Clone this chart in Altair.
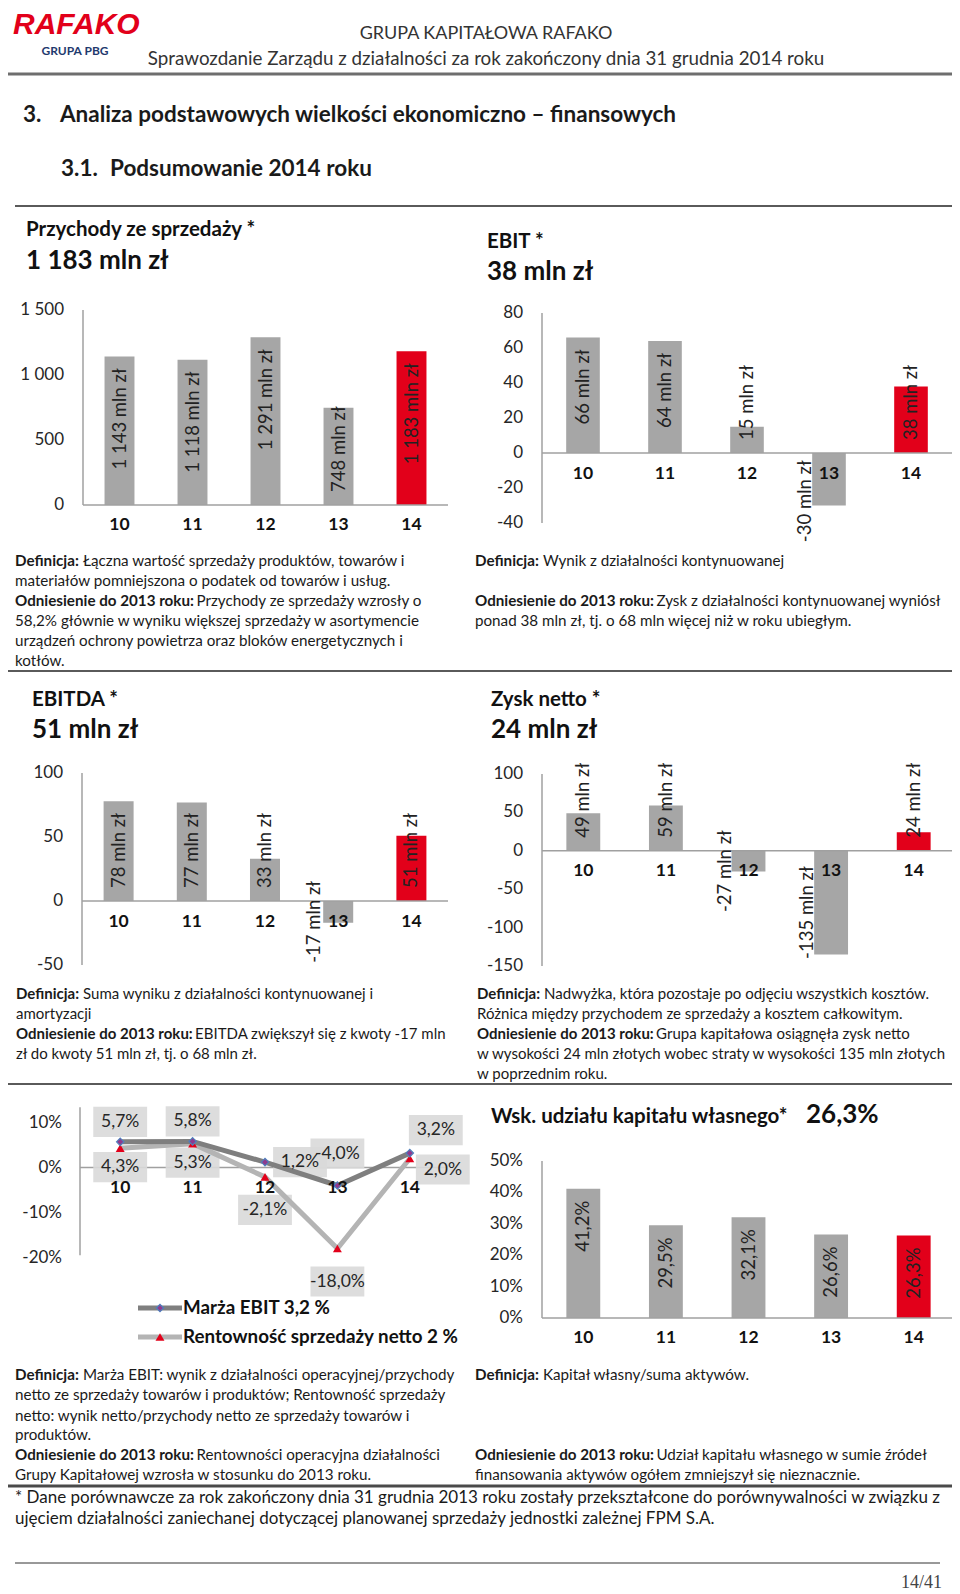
import altair as alt
import pandas as pd

FONT = "Lato"
GRAY = "#A6A6A6"
RED = "#E2001A"
AXIS = "#A0A0A0"
INK = "#1A1A1A"

# ---------------- data ----------------
years = ["10", "11", "12", "13", "14"]
revenue = [1143, 1118, 1291, 748, 1183]
ebit = [66, 64, 15, -30, 38]
ebitda = [78, 77, 33, -17, 51]
net_profit = [49, 59, -27, -135, 24]
equity_ratio = [41.2, 29.5, 32.1, 26.6, 26.3]
ebit_margin = [5.7, 5.8, 1.2, -4.0, 3.2]
net_margin = [4.3, 5.3, -2.1, -18.0, 2.0]

revenue_ticks = [0, 500, 1000, 1500]
revenue_tick_labels = ["0", "500", "1 000", "1 500"]
ebit_ticks = [-40, -20, 0, 20, 40, 60, 80]
ebitda_ticks = [-50, 0, 50, 100]
net_ticks = [-150, -100, -50, 0, 50, 100]
margin_ticks = [-20, -10, 0, 10]
equity_ticks = [0, 10, 20, 30, 40, 50]

# where each data label of the margin chart sits relative to its point
ebit_label_side = ["above", "above", "right", "above-far", "above-right"]
net_label_side = ["below", "below", "below-far", "below-far", "right-low"]

legend_labels = ["Marża EBIT 3,2 %", "Rentowność sprzedaży netto 2 %"]

block1_left = [
    ("Definicja:", "Łączna wartość sprzedaży produktów, towarów i"),
    ("", "materiałów pomniejszona o podatek od towarów i usług."),
    ("Odniesienie do 2013 roku:", "Przychody ze sprzedaży wzrosły o"),
    ("", "58,2% głównie w wyniku większej sprzedaży w asortymencie"),
    ("", "urządzeń ochrony powietrza oraz bloków energetycznych i"),
    ("", "kotłów."),
]
block1_right = [
    ("Definicja:", "Wynik z działalności kontynuowanej"),
    ("Odniesienie do 2013 roku:", "Zysk z działalności kontynuowanej wyniósł"),
    ("", "ponad 38 mln zł, tj. o 68 mln więcej niż w roku ubiegłym."),
]
block2_left = [
    ("Definicja:", "Suma wyniku z działalności kontynuowanej i"),
    ("", "amortyzacji"),
    ("Odniesienie do 2013 roku:", "EBITDA zwiększył się z kwoty -17 mln"),
    ("", "zł do kwoty 51 mln zł, tj. o 68 mln zł."),
]
block2_right = [
    ("Definicja:", "Nadwyżka, która pozostaje po odjęciu wszystkich kosztów."),
    ("", "Różnica między przychodem ze sprzedaży a kosztem całkowitym."),
    ("Odniesienie do 2013 roku:", "Grupa kapitałowa osiągnęła zysk netto"),
    ("", "w wysokości 24 mln złotych wobec straty w wysokości 135 mln złotych"),
    ("", "w poprzednim roku."),
]
block3_left = [
    ("Definicja:", "Marża EBIT: wynik z działalności operacyjnej/przychody"),
    ("", "netto ze sprzedaży towarów i produktów; Rentowność sprzedaży"),
    ("", "netto: wynik netto/przychody netto ze sprzedaży towarów i"),
    ("", "produktów."),
    ("Odniesienie do 2013 roku:", "Rentowności operacyjna działalności"),
    ("", "Grupy Kapitałowej wzrosła w stosunku do 2013 roku."),
]
block3_right = [
    ("Definicja:", "Kapitał własny/suma aktywów."),
    ("Odniesienie do 2013 roku:", "Udział kapitału własnego w sumie źródeł"),
    ("", "finansowania aktywów ogółem zmniejszył się nieznacznie."),
]
footnote = [
    "* Dane porównawcze za rok zakończony dnia 31 grudnia 2013 roku zostały przekształcone do porównywalności w związku z",
    "ujęciem działalności zaniechanej dotyczącej planowanej sprzedaży jednostki zależnej FPM S.A.",
]


def mln(v):
    s = f"{abs(v):,}".replace(",", " ")
    return ("-" if v < 0 else "") + s + " mln zł"


def pct(v):
    return f"{v:.1f}".replace(".", ",") + "%"


# ---------------- helpers ----------------
def P(v):
    return v - 8


ONE = pd.DataFrame({"k": [0]})
TITLE = 20.5
BODY = 15.2
LABEL = 18.5


def text_at(s, x, y, size=14, bold=False, color=INK, align="left", font=FONT, italic=False):
    kw = dict(text=s, align=align, baseline="middle", fontSize=size, font=font,
              color=color, fontWeight="bold" if bold else "normal")
    if italic:
        kw["fontStyle"] = "italic"
    return alt.Chart(ONE).mark_text(**kw).encode(x=alt.value(P(x)), y=alt.value(P(y)))


def rule_at(y, x0, x1, color="#5A5A5A", w=2):
    return alt.Chart(ONE).mark_rule(color=color, strokeWidth=w).encode(
        x=alt.value(P(x0)), x2=alt.value(P(x1)), y=alt.value(P(y)))


EM = {"Definicja:": 4.47, "Odniesienie do 2013 roku:": 11.94}


def para(lines, x, ys, size):
    out = []
    for (b, r), y in zip(lines, ys):
        if b:
            out.append(text_at(b, x, y, size, bold=True))
            out.append(text_at(r, x + EM[b] * size, y, size))
        else:
            out.append(text_at(r, x, y, size))
    return out


def bar_panel(vals, labels, ticks, tick_labels, domain, x0, x1, yb, yt, tick_right,
              cat_dy=20, pad=0.59, neg_dx=-10):
    k = (yb - yt) / (domain[1] - domain[0])
    xs = alt.Scale(domain=years, range=[P(x0), P(x1)], paddingInner=pad, paddingOuter=pad / 2)
    ys = alt.Scale(domain=domain, range=[P(yb), P(yt)], nice=False, zero=False)
    df = pd.DataFrame({"year": years, "v": vals, "label": labels})
    X = alt.X("year:N", scale=xs, axis=None)
    Y = alt.Y("v:Q", scale=ys, axis=None)
    col = alt.when(alt.datum.year == "14").then(alt.value(RED)).otherwise(alt.value(GRAY))
    bars = alt.Chart(df).mark_bar().encode(x=X, y=Y, y2=alt.Y2Datum(0), color=col)

    lab = alt.Chart(df).transform_calculate(
        fits=f"datum.v * {k:.5f} - 25 >= length(datum.label) * 8.3",
        mid="datum.v / 2")
    common = dict(angle=270, baseline="middle", fontSize=LABEL, font=FONT, color="#222222")
    top = lab.transform_filter("datum.v > 0 && datum.fits").mark_text(
        align="right", dx=-12, **common).encode(x=X, y=Y, text="label:N")
    base = lab.transform_filter("datum.v > 0 && !datum.fits").mark_text(
        align="left", dx=13, **common).encode(x=X, y=alt.YDatum(0, axis=None), text="label:N")
    neg = lab.transform_filter("datum.v < 0").mark_text(
        align="center", dx=neg_dx, dy=-24, **common).encode(
        x=X, y=alt.Y("mid:Q", axis=None), text="label:N")

    tdf = pd.DataFrame({"t": ticks, "tl": tick_labels})
    tk = alt.Chart(tdf).mark_text(align="right", baseline="middle", fontSize=17, font=FONT,
                                  color="#262626").encode(
        x=alt.value(P(tick_right)), y=alt.Y("t:Q", axis=None), text="tl:N")
    yax = alt.Chart(ONE).mark_rule(color=AXIS, strokeWidth=1.5).encode(
        x=alt.value(P(x0)), y=alt.YDatum(domain[0], axis=None), y2=alt.Y2Datum(domain[1]))
    zl = alt.Chart(ONE).mark_rule(color=AXIS, strokeWidth=1.5).encode(
        x=alt.value(P(x0)), x2=alt.value(P(x1)), y=alt.YDatum(0, axis=None))
    cats = alt.Chart(pd.DataFrame({"year": years})).mark_text(
        fontWeight="bold", fontSize=17.5, font=FONT, color="#111111", dy=cat_dy,
        baseline="middle").encode(x=X, y=alt.YDatum(0, axis=None), text="year:N")
    return alt.layer(bars, yax, zl, top, base, neg, tk, cats)


OFFS = {"above": (0, -20), "above-far": (0, -32), "above-right": (26, -23),
        "right": (35, 0), "below": (0, 19), "below-far": (0, 33), "right-low": (33, 11)}


def line_panel():
    x0, x1 = 84, 446
    yb, yt = 1257.5, 1122.5
    xs = alt.Scale(domain=years, range=[P(x0), P(x1)], paddingInner=0, paddingOuter=0)
    ys = alt.Scale(domain=[-20, 10], range=[P(yb), P(yt)], nice=False, zero=False)
    X = alt.X("year:N", scale=xs, axis=None)
    Y = alt.Y("v:Q", scale=ys, axis=None)
    de = pd.DataFrame({"year": years, "v": ebit_margin,
                       "label": [pct(v) for v in ebit_margin], "side": ebit_label_side})
    dn = pd.DataFrame({"year": years, "v": net_margin,
                       "label": [pct(v) for v in net_margin], "side": net_label_side})
    box_shape = "M-1,-0.56L1,-0.56L1,0.56L-1,0.56Z"
    boxes, texts = [], []
    lbl = dict(fontSize=17.5, font=FONT, color="#262626", baseline="middle")
    for d in (de, dn):
        for side in dict.fromkeys(d["side"]):
            ox, oy = OFFS[side]
            sub = alt.Chart(d).transform_filter(alt.datum.side == side)
            boxes.append(sub.mark_point(shape=box_shape, filled=True, size=2900, color="#D9D9D9",
                                        opacity=0.9, xOffset=ox, yOffset=oy).encode(x=X, y=Y))
            texts.append(sub.mark_text(dx=ox, dy=oy, **lbl).encode(x=X, y=Y, text="label:N"))
    line_n = alt.Chart(dn).mark_line(color="#B4B4B4", strokeWidth=5).encode(x=X, y=Y)
    line_e = alt.Chart(de).mark_line(color="#7F7F7F", strokeWidth=5).encode(x=X, y=Y)
    pt_n = alt.Chart(dn).mark_point(shape="triangle-up", filled=True, size=80, color=RED,
                                    opacity=1).encode(x=X, y=Y)
    pt_e = alt.Chart(de).mark_point(shape="diamond", filled=True, size=55, fill="#8E3A8E",
                                    stroke="#4F81BD", strokeWidth=1.2, opacity=1).encode(x=X, y=Y)

    tdf = pd.DataFrame({"t": margin_ticks, "tl": [f"{t}%" for t in margin_ticks]})
    tk = alt.Chart(tdf).mark_text(align="right", baseline="middle", fontSize=17, font=FONT,
                                  color="#262626").encode(
        x=alt.value(P(62)), y=alt.Y("t:Q", axis=None), text="tl:N")
    yax = alt.Chart(ONE).mark_rule(color=AXIS, strokeWidth=1.5).encode(
        x=alt.value(P(80)), y=alt.YDatum(-19.5, axis=None), y2=alt.Y2Datum(13.4))
    zl = alt.Chart(ONE).mark_rule(color=AXIS, strokeWidth=1.5).encode(
        x=alt.value(P(80)), x2=alt.value(P(x1)), y=alt.YDatum(0, axis=None))
    cats = alt.Chart(pd.DataFrame({"year": years})).mark_text(
        fontWeight="bold", fontSize=17.5, font=FONT, color="#111111", dy=20,
        baseline="middle").encode(x=X, y=alt.YDatum(0, axis=None), text="year:N")
    base = alt.Chart(de).mark_point(opacity=0).encode(x=X, y=alt.Y("v:Q", scale=ys, axis=None))
    return alt.layer(base, yax, zl, *boxes, line_n, line_e, pt_n, pt_e, tk, cats, *texts)


# ---------------- page ----------------
layers = []
# header
layers += [
    text_at("RAFAKO", 13, 25, 30, bold=True, color=RED, font="Liberation Sans", italic=True),
    text_at("GRUPA PBG", 75, 51, 12, bold=True, color="#1F3A6E", align="center"),
    text_at("GRUPA KAPITAŁOWA RAFAKO", 486, 34, 18, color="#333333", align="center"),
    text_at("Sprawozdanie Zarządu z działalności za rok zakończony dnia 31 grudnia 2014 roku",
            486, 59, 18.8, color="#333333", align="center"),
    rule_at(74, 8, 960, "#6E6E6E", 3),
    text_at("3.", 23, 115, 22.5, bold=True),
    text_at("Analiza podstawowych wielkości ekonomiczno – finansowych", 60, 115, 22.5, bold=True),
    text_at("3.1.", 61, 169, 22.5, bold=True),
    text_at("Podsumowanie 2014 roku", 110, 169, 22.5, bold=True),
    rule_at(206, 15, 953, "#5A5A5A", 2),
]

# chart 1 : revenue
layers += [
    text_at("Przychody ze sprzedaży *", 26, 230, TITLE, bold=True, color="#111111"),
    text_at(mln(revenue[-1]), 26, 261, 26, bold=True, color="#111111"),
    bar_panel(revenue, [mln(v) for v in revenue], revenue_ticks, revenue_tick_labels,
              [0, 1500], 83, 448, 505, 310, 64, cat_dy=20),
]
# chart 2 : EBIT
layers += [
    text_at("EBIT *", 487, 242, TITLE, bold=True, color="#111111"),
    text_at(mln(ebit[-1]), 487, 272, 26, bold=True, color="#111111"),
    bar_panel(ebit, [mln(v) for v in ebit], ebit_ticks, [str(t) for t in ebit_ticks],
              [-40, 80], 542, 952, 523, 313, 523, cat_dy=21, neg_dx=-22),
]
layers += para(block1_left, 15, [561, 581, 601, 621, 641, 661], BODY)
layers += para(block1_right, 475, [561, 601, 621], BODY)
layers += [rule_at(671, 5, 955, "#5A5A5A", 2)]

# chart 3 : EBITDA
layers += [
    text_at("EBITDA *", 32, 700, TITLE, bold=True, color="#111111"),
    text_at(mln(ebitda[-1]), 32, 730, 26, bold=True, color="#111111"),
    bar_panel(ebitda, [mln(v) for v in ebitda], ebitda_ticks, [str(t) for t in ebitda_ticks],
              [-50, 100], 82, 448, 965, 773, 63, cat_dy=21),
]
# chart 4 : net profit
layers += [
    text_at("Zysk netto *", 491, 700, TITLE, bold=True, color="#111111"),
    text_at(mln(net_profit[-1]), 491, 730, 26, bold=True, color="#111111"),
    bar_panel(net_profit, [mln(v) for v in net_profit], net_ticks, [str(t) for t in net_ticks],
              [-150, 100], 542, 955, 966, 774, 523, cat_dy=20),
]
layers += para(block2_left, 16, [994, 1014, 1034, 1054], 15)
layers += para(block2_right, 477, [994, 1014, 1034, 1054, 1074], 15)
layers += [rule_at(1084, 5, 955, "#5A5A5A", 2)]

# chart 5 : margins
layers += [line_panel()]
layers += [
    rule_at(1308, 138, 182, "#7F7F7F", 5),
    alt.Chart(ONE).mark_point(shape="diamond", filled=True, size=55, fill="#8E3A8E",
                              stroke="#4F81BD", strokeWidth=1.2, opacity=1).encode(
        x=alt.value(P(160)), y=alt.value(P(1308))),
    text_at(legend_labels[0], 183, 1308, 18.8, bold=True, color="#111111"),
    rule_at(1337, 138, 182, "#B4B4B4", 5),
    alt.Chart(ONE).mark_point(shape="triangle-up", filled=True, size=80, color=RED,
                              opacity=1).encode(x=alt.value(P(160)), y=alt.value(P(1337))),
    text_at(legend_labels[1], 183, 1337, 18.8, bold=True, color="#111111"),
]
# chart 6 : equity ratio
layers += [
    text_at("Wsk. udziału kapitału własnego*", 491, 1117, TITLE, bold=True, color="#111111"),
    text_at(pct(equity_ratio[-1]), 806, 1115, 26, bold=True, color="#111111"),
    bar_panel(equity_ratio, [pct(v) for v in equity_ratio], equity_ticks,
              [f"{t}%" for t in equity_ticks], [0, 50], 542, 955, 1318, 1161, 523, cat_dy=20),
]
layers += para(block3_left, 15, [1375, 1395, 1416, 1435, 1455, 1475], BODY)
layers += para(block3_right, 475, [1375, 1455, 1475], BODY)
layers += [rule_at(1486, 7, 956, "#4A4A4A", 3)]
layers += [text_at(footnote[0], 15, 1498, 17), text_at(footnote[1], 15, 1519, 17)]
layers += [rule_at(1563, 15, 940, "#333333", 1)]
layers += [text_at("14/41", 942, 1583, 18, color="#444444", align="right", font="Liberation Serif")]

chart = alt.layer(*layers).resolve_scale(x="independent", y="independent").properties(
    width=944, height=1586, autosize=alt.AutoSizeParams(type="none"), padding=0,
    background="white").configure_view(stroke=None)

chart.save("out.html", embed_options={"renderer": "svg", "actions": False})
